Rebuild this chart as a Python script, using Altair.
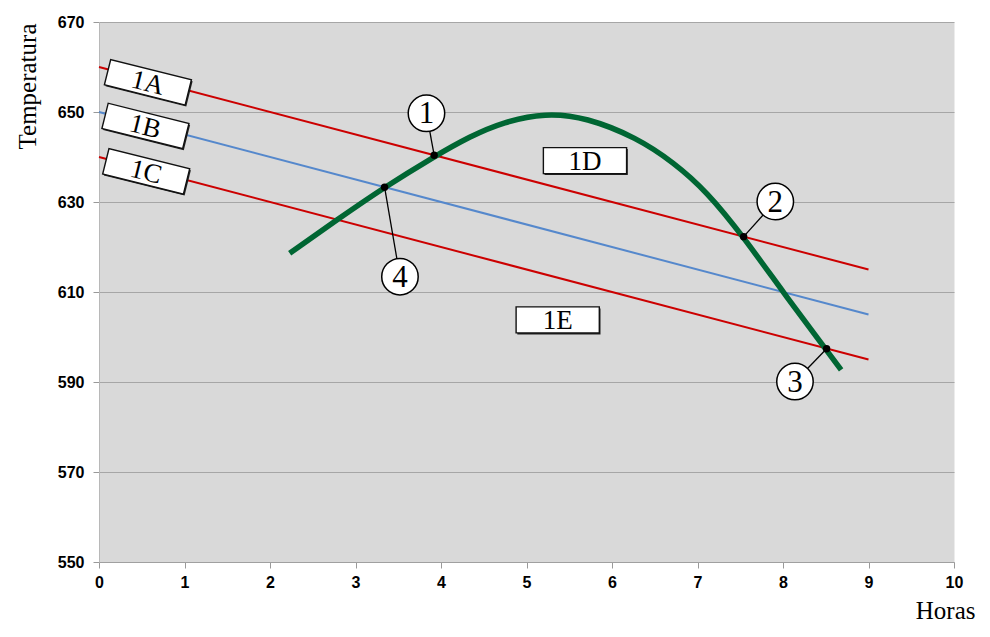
import altair as alt
import pandas as pd

# ---- data ----
line_hours = [0, 9]
line_1a = [660, 615]
line_1b = [650, 605]
line_1c = [640, 595]
line_names = ["1A", "1B", "1C"]
line_colors = ["#cc0000", "#5588cc", "#cc0000"]

curve_hours = [2.23, 2.78, 3.34, 3.92, 4.34, 4.73, 5.22, 5.70, 6.29, 6.72, 7.11, 7.54, 8.00, 8.51, 8.68]
curve_temp = [618.6, 626.0, 633.3, 640.1, 644.6, 647.8, 649.8, 648.8, 644.3, 638.8, 632.3, 622.2, 610.0, 597.0, 592.7]

point_labels = ["1", "2", "3", "4"]
point_hours = [3.92, 7.54, 8.51, 3.34]
point_temp = [640.4, 622.3, 597.4, 633.3]
badge_hours = [3.83, 7.91, 8.14, 3.52]
badge_temp = [649.7, 630.1, 590.1, 613.4]

box_labels = ["1A", "1B", "1C", "1D", "1E"]
box_hours = [0.572, 0.543, 0.552, 5.684, 5.365]
box_temp = [656.6, 646.9, 636.8, 639.2, 603.8]
box_angle = [14, 14, 14, 0, 0]

y_ticks = [550, 570, 590, 610, 630, 650, 670]
x_ticks = list(range(0, 11))

# ---- tables ----
lines_df = pd.DataFrame(
    [{"serie": n, "h": h, "t": t}
     for n, ys in zip(line_names, [line_1a, line_1b, line_1c])
     for h, t in zip(line_hours, ys)]
)
curve_df = pd.DataFrame({"h": curve_hours, "t": curve_temp})
points_df = pd.DataFrame({"lab": point_labels, "h": point_hours, "t": point_temp,
                          "h2": badge_hours, "t2": badge_temp})
badges_df = pd.DataFrame({"lab": point_labels, "h": badge_hours, "t": badge_temp})
boxes_df = pd.DataFrame({"lab": box_labels, "h": box_hours, "t": box_temp, "ang": box_angle})

SERIF = "Liberation Serif"
SANS = "Liberation Sans"

x_axis = alt.Axis(values=x_ticks, title="Horas", grid=False, labelFlush=False,
                  labelFont=SANS, labelFontSize=16, labelFontWeight="bold", labelColor="black",
                  labelPadding=6, tickSize=6, tickColor="#999999", domainColor="#a0a0a0",
                  titleFont=SERIF, titleFontSize=25, titleFontWeight="normal", titleColor="black",
                  titleX=876, titleY=56, titleAlign="right", titleBaseline="alphabetic")
y_axis = alt.Axis(values=y_ticks, title="Temperatura", grid=True, gridColor="#a6a6a6", gridWidth=1,
                  labelFont=SANS, labelFontSize=16, labelFontWeight="bold", labelColor="black",
                  labelPadding=9, tickSize=6, tickColor="#999999", domainColor="#b8b8b8",
                  titleFont=SERIF, titleFontSize=25, titleFontWeight="normal", titleColor="black",
                  titleX=-72, titleY=64, titleAngle=270, titleAlign="center", titleBaseline="middle")

xs = alt.Scale(domain=[0, 10], nice=False, zero=False)
ys = alt.Scale(domain=[550, 670], nice=False, zero=False)


def X(f="h"):
    return alt.X(f"{f}:Q", scale=xs, axis=x_axis)


def Y(f="t"):
    return alt.Y(f"{f}:Q", scale=ys, axis=y_axis)


lines = alt.Chart(lines_df).mark_line(strokeWidth=2).encode(
    x=X(), y=Y(), detail="serie:N",
    color=alt.Color("serie:N", scale=alt.Scale(domain=line_names, range=line_colors), legend=None),
)

curve = alt.Chart(curve_df).mark_line(color="#006633", strokeWidth=5.5, interpolate="basis").encode(
    x=X(), y=Y()
)

leaders = alt.Chart(points_df).mark_rule(color="black", strokeWidth=1.3).encode(
    x=X(), y=Y(), x2="h2:Q", y2="t2:Q"
)

dots = alt.Chart(points_df).mark_point(shape="circle", filled=True, color="black", size=55, opacity=1).encode(
    x=X(), y=Y()
)

badges = alt.Chart(badges_df).mark_point(shape="circle", filled=True, fill="white", stroke="black",
                                          strokeWidth=1.5, size=1330, opacity=1).encode(x=X(), y=Y())
badge_text = alt.Chart(badges_df).mark_text(font=SERIF, fontSize=31, align="center", baseline="middle",
                                            dy=1, color="black").encode(x=X(), y=Y(), text="lab:N")

BOX = "M-1.6,-0.5L1.6,-0.5L1.6,0.5L-1.6,0.5Z"
box_shadow = alt.Chart(boxes_df).mark_point(shape=BOX, filled=True, fill="#222222", size=2704, opacity=1,
                                            xOffset=1.2, yOffset=1.5).encode(
    x=X(), y=Y(), angle=alt.Angle("ang:Q", scale=None))
boxes = alt.Chart(boxes_df).mark_point(shape=BOX, filled=True, fill="white", stroke="#111111",
                                       strokeWidth=1.4, size=2704, opacity=1).encode(
    x=X(), y=Y(), angle=alt.Angle("ang:Q", scale=None))
box_text = alt.Chart(boxes_df).mark_text(font=SERIF, fontSize=27, align="center", baseline="middle",
                                         dy=1, color="black").encode(
    x=X(), y=Y(), text="lab:N", angle=alt.Angle("ang:Q", scale=None))

chart = alt.layer(
    lines, curve, leaders, dots, box_shadow, boxes, box_text, badges, badge_text
).properties(
    width=855, height=540,
    padding={"left": 91, "top": 14, "right": 28, "bottom": 63},
    autosize=alt.AutoSizeParams(type="none"),
).configure_view(fill="#d9d9d9", stroke="transparent")

chart.save("out.html", embed_options={"renderer": "svg", "actions": False})
